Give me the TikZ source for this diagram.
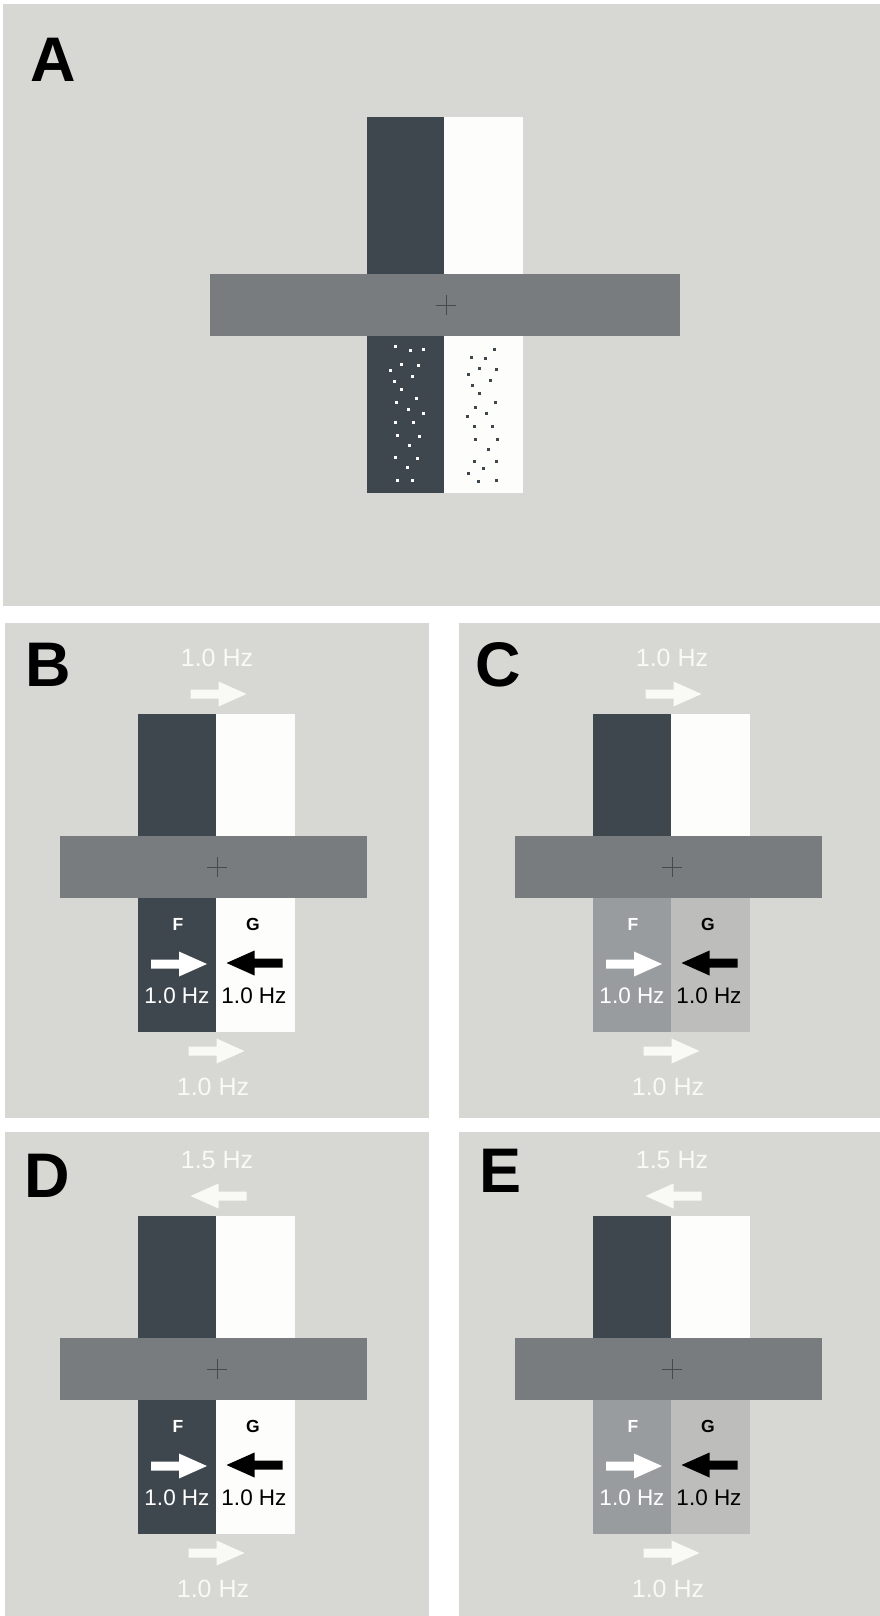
\documentclass[tikz,border=0pt]{standalone}
\usepackage{fontspec}
\setmainfont{Liberation Sans}
\definecolor{bgc}{RGB}{215,216,211}
\definecolor{darkbar}{RGB}{63,71,78}
\definecolor{whitebar}{RGB}{253,253,251}
\definecolor{hbarc}{RGB}{121,124,127}
\definecolor{flight}{RGB}{153,156,159}
\definecolor{glight}{RGB}{189,189,187}
\definecolor{softwhite}{RGB}{249,249,246}
\definecolor{crossc}{RGB}{70,74,78}
\tikzset{
  blockarrow/.pic={\fill (-28,-4.5) -- (0,-4.5) -- (0,-12.5) -- (28,0) -- (0,12.5) -- (0,4.5) -- (-28,4.5) -- cycle;},
  paneltag/.style={inner sep=0pt, font=\fontsize{63}{63}\selectfont\bfseries, text=black},
  hzbig/.style={inner sep=0pt, font=\fontsize{25}{25}\selectfont, text=softwhite},
  hzsmall/.style={inner sep=0pt, font=\fontsize{22.5}{22.5}\selectfont},
  fgtag/.style={inner sep=0pt, font=\fontsize{17.5}{17.5}\selectfont\bfseries},
  crossline/.style={draw=crossc, line width=1pt},
}
\newcommand\subpanel[6]{%
 \begin{scope}[shift={#2}]
  \fill[darkbar] (138,714) rectangle (216,836);
  \fill[whitebar] (216,714) rectangle (295,836);
  \fill[#3] (138,898) rectangle (216,1032);
  \fill[#4] (216,898) rectangle (295,1032);
  \fill[hbarc] (60,836) rectangle (367,898);
  \draw[crossline] (207,867) -- (227,867) (217,857) -- (217,877);
  \node[hzbig] (#1top) at (217,658) {#5};
  \pic[softwhite, xscale=#6] at (218.5,694) {blockarrow};
  \node[fgtag, text=white] (#1F) at (178,924) {F};
  \node[fgtag, text=black] (#1G) at (253,924) {G};
  \pic[white] at (179,964) {blockarrow};
  \pic[black, xscale=-1] at (254.5,963) {blockarrow};
  \node[hzsmall, text=white] (#1Fhz) at (177,996) {1.0 Hz};
  \node[hzsmall, text=black] (#1Ghz) at (254,996) {1.0 Hz};
  \pic[softwhite] at (216.5,1051) {blockarrow};
  \node[hzbig] (#1bot) at (213,1087) {1.0 Hz};
 \end{scope}}
\begin{document}
\begin{tikzpicture}[x=1pt,y=-1pt]
\useasboundingbox (0,0) rectangle (880,1616);
\fill[white] (0,0) rectangle (880,1616);
% panel backgrounds
\fill[bgc] (3,4) rectangle (880,606);
\fill[bgc] (5,623) rectangle (429,1118);
\fill[bgc] (459,623) rectangle (880,1118);
\fill[bgc] (5,1132) rectangle (429,1616);
\fill[bgc] (459,1132) rectangle (880,1616);
% panel A
\fill[darkbar] (367,117) rectangle (444,274);
\fill[whitebar] (444,117) rectangle (523,274);
\fill[darkbar] (367,336) rectangle (444,493);
\fill[whitebar] (444,336) rectangle (523,493);
\fill[hbarc] (210,274) rectangle (680,336);
\draw[crossline] (436,305) -- (456,305) (446,295) -- (446,315);
\foreach \px/\py in {395/346.7,410.7/350.7,423.7/349,401/364.7,418.3/365.3,390/370,412/376.3,394/381,401/389.7,396.3/402.7,416.7/398.3,408.3/409.3,423/413.3,395.7/422.7,413.7/422.7,397/435.3,419/436,409.7/445.7,395.7/457,417.7/458,407.3/467.3,397/480,412.7/480.7}
  \fill[white] (\px-1.5,\py-1.5) rectangle +(3,3);
\foreach \px/\py in {494.3/349,471/357.7,485.7/358.3,479.7/368.7,496.7/369.3,468.7/374,490.3/380.3,472.7/385,479.7/393.7,495/402.3,475/407,486.7/413.3,467.7/416.3,474/426.7,492/426.7,475.7/439,497.7/439.7,488/449.3,474/461,496/461.7,483.7/468,468.7/473.7,478.7/481.7,496/480}
  \fill[darkbar] (\px-1.5,\py-1.5) rectangle +(3,3);
\node[paneltag] (labA) at (53,60) {A};
% panels B-E
\subpanel{B}{(0,0)}{darkbar}{whitebar}{1.0 Hz}{1}
\subpanel{C}{(455,0)}{flight}{glight}{1.0 Hz}{1}
\subpanel{D}{(0,502)}{darkbar}{whitebar}{1.5 Hz}{-1}
\subpanel{E}{(455,502)}{flight}{glight}{1.5 Hz}{-1}
\node[paneltag] (labB) at (48,664.5) {B};
\node[paneltag] (labC) at (498.5,665) {C};
\node[paneltag] (labD) at (47,1175.5) {D};
\node[paneltag] (labE) at (500.5,1170.5) {E};
\end{tikzpicture}
\end{document}
